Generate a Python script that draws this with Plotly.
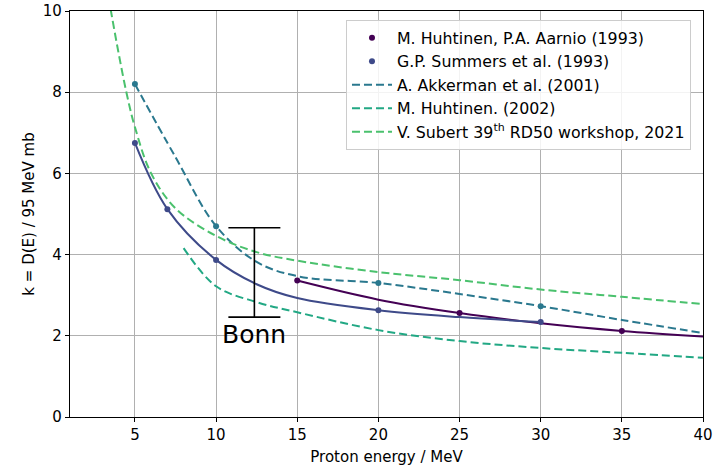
import plotly.graph_objects as go

# ---- data ----
huht93_E = [15, 20, 25, 30, 35, 40]
huht93_k = [3.36, 2.89, 2.56, 2.31, 2.12, 1.98]
huht93_mark = [True, False, True, False, True, False]

summ_E = [5, 7, 10, 12.5, 15, 20, 25, 30]
summ_k = [6.75, 5.12, 3.87, 3.27, 2.93, 2.63, 2.46, 2.34]
summ_mark = [True, True, True, False, False, True, False, True]

akk_E = [5, 7.5, 10, 12.5, 15, 20, 25, 30, 35, 40]
akk_k = [8.2, 6.4, 4.70, 3.82, 3.47, 3.30, 3.03, 2.73, 2.39, 2.07]
akk_mark = [True, False, True, False, False, True, False, True, False, False]

huht02_E = [8, 10, 12.5, 15, 20, 25, 30, 35, 40]
huht02_k = [4.16, 3.22, 2.83, 2.58, 2.14, 1.87, 1.70, 1.58, 1.46]

sub_E = [3.5, 4, 4.5, 5, 6, 7.5, 10, 12.5, 15, 20, 25, 30, 35, 40]
sub_k = [10.05, 8.95, 7.95, 7.14, 6.0, 5.14, 4.46, 4.06, 3.85, 3.57, 3.37, 3.14, 2.96, 2.78]

bonn_E = [12.36]
bonn_k = [3.56]
bonn_err = [1.1]
bonn_label = "Bonn"
bonn_label_k = 2.02

x_ticks = [5, 10, 15, 20, 25, 30, 35, 40]
y_ticks = [0, 2, 4, 6, 8, 10]

names = ["M. Huhtinen, P.A. Aarnio (1993)", "G.P. Summers et al. (1993)",
         "A. Akkerman et al. (2001)", "M. Huhtinen. (2002)",
         "V. Subert 39<sup>th</sup> RD50 workshop, 2021"]
colors = ["#440154", "#3e4a89", "#2a788e", "#22a884", "#4ac16d"]

dash = "8px,4px"
fig = go.Figure()

def pick(xs, ys, m):
    return [x for x, f in zip(xs, m) if f], [y for y, f in zip(ys, m) if f]

# Huhtinen 1993
fig.add_trace(go.Scatter(x=huht93_E, y=huht93_k, mode="lines", line=dict(color=colors[0], width=2, shape="spline"), showlegend=False))
mx, my = pick(huht93_E, huht93_k, huht93_mark)
fig.add_trace(go.Scatter(x=mx, y=my, mode="markers", marker=dict(color=colors[0], size=6), name=names[0]))
# Summers
fig.add_trace(go.Scatter(x=summ_E, y=summ_k, mode="lines", line=dict(color=colors[1], width=2, shape="spline"), showlegend=False))
mx, my = pick(summ_E, summ_k, summ_mark)
fig.add_trace(go.Scatter(x=mx, y=my, mode="markers", marker=dict(color=colors[1], size=6), name=names[1]))
# Akkerman
fig.add_trace(go.Scatter(x=akk_E, y=akk_k, mode="lines", line=dict(color=colors[2], width=2, dash=dash, shape="spline"), name=names[2]))
mx, my = pick(akk_E, akk_k, akk_mark)
fig.add_trace(go.Scatter(x=mx, y=my, mode="markers", marker=dict(color=colors[2], size=6), showlegend=False))
# Huhtinen 2002
fig.add_trace(go.Scatter(x=huht02_E, y=huht02_k, mode="lines", line=dict(color=colors[3], width=2, dash=dash, shape="spline"), name=names[3]))
# Subert
fig.add_trace(go.Scatter(x=sub_E, y=sub_k, mode="lines", line=dict(color=colors[4], width=2, dash=dash, shape="spline"), name=names[4]))
# Bonn
fig.add_trace(go.Scatter(x=bonn_E, y=bonn_k, mode="markers", marker=dict(size=0.1, color="rgba(0,0,0,0)"),
                         error_y=dict(type="data", array=bonn_err, color="black", thickness=1.6, width=26),
                         showlegend=False, hoverinfo="skip"))
fig.add_annotation(x=bonn_E[0], y=bonn_label_k, text=bonn_label, showarrow=False,
                   font=dict(size=25, color="black"))

axis_common = dict(showline=True, linecolor="black", linewidth=1.2, mirror=True,
                   showgrid=True, gridcolor="#b0b0b0", gridwidth=1,
                   ticks="outside", ticklen=4, tickcolor="black", zeroline=False,
                   tickfont=dict(size=15, color="black"), title_font=dict(size=15, color="black"))
fig.update_xaxes(range=[1, 40], tickvals=x_ticks, title_text="Proton energy / MeV", title_standoff=8, **axis_common)
fig.update_yaxes(range=[0, 10], tickvals=y_ticks, title_text="k = D(E) / 95 MeV mb", title_standoff=4, **axis_common)

fig.update_layout(
    width=717, height=466,
    margin=dict(l=70, r=14, t=11, b=49, autoexpand=False),
    paper_bgcolor="white", plot_bgcolor="white",
    font=dict(family="DejaVu Sans", color="black"),
    legend=dict(x=0.436, y=0.978, xanchor="left", yanchor="top",
                bgcolor="rgba(255,255,255,0.85)", bordercolor="#cccccc", borderwidth=1,
                font=dict(size=15.8), itemwidth=40),
)
fig.write_html("out.html", config={"displayModeBar": False},
               post_script="document.body.style.margin='0px';")
